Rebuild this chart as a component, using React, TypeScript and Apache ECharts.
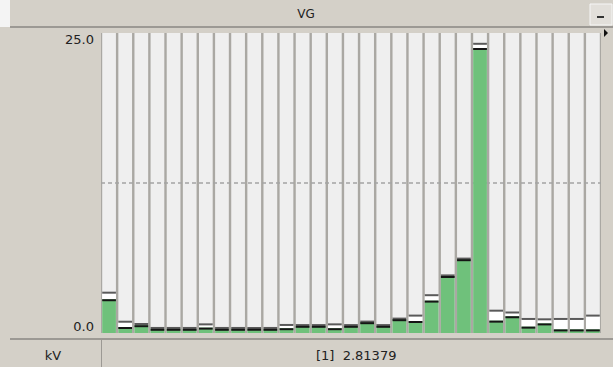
import React, { useEffect, useRef } from "react";
import * as echarts from "echarts";

// Channel numbers shown along the meter strip
const channels = [
  "1", "2", "3", "4", "5", "6", "7", "8", "9", "10",
  "11", "12", "13", "14", "15", "16", "17", "18", "19", "20",
  "21", "22", "23", "24", "25", "26", "27", "28", "29", "30", "31",
];

// Present reading of each channel (kV)
const values = [
  2.81379, 0.5, 0.65, 0.35, 0.35, 0.35, 0.45, 0.35, 0.35, 0.35,
  0.35, 0.4, 0.6, 0.6, 0.4, 0.6, 0.9, 0.6, 1.15, 1.0,
  2.7, 4.75, 6.15, 23.75, 1.03, 1.4, 0.53, 0.8, 0.3, 0.3, 0.3,
];

// Peak-hold reading of each channel (kV)
const peaks = [
  3.36, 0.94, 0.75, 0.42, 0.42, 0.42, 0.72, 0.42, 0.42, 0.42,
  0.42, 0.67, 0.66, 0.66, 0.72, 0.66, 0.95, 0.66, 1.2, 1.45,
  3.15, 4.8, 6.2, 24.1, 1.86, 1.7, 1.17, 1.14, 1.17, 1.17, 1.45,
];

const yTicks = [0, 12.5, 25];
const titleText = "VG";
const unitText = "kV";
const selectedChannel = 1;

const FONT = "DejaVu Sans";
const PANEL = "#d4d0c8";
const EDGE = "#9c9994";
const GREEN = "#6fc17b";

export default function App() {
  const ref = useRef<HTMLDivElement>(null);

  useEffect(() => {
    if (!ref.current) return;
    const chart = echarts.init(ref.current, undefined, { renderer: "svg" });
    const yMin = yTicks[0];
    const yMax = yTicks[yTicks.length - 1];
    const readout = `[${selectedChannel}]  ${values[selectedChannel - 1].toFixed(5)}`;

    chart.setOption({
      animation: false,
      backgroundColor: PANEL,
      textStyle: { fontFamily: FONT },
      grid: {
        left: 101,
        top: 33,
        right: 12,
        bottom: 34,
        show: true,
        backgroundColor: "#aaa8a3",
        borderWidth: 0,
      },
      xAxis: {
        type: "category",
        data: channels,
        axisLine: { show: false },
        axisTick: { show: false },
        axisLabel: { show: false },
        splitLine: { show: false },
      },
      yAxis: {
        type: "value",
        min: yMin,
        max: yMax,
        interval: yTicks[1] - yTicks[0],
        axisLine: { show: false },
        axisTick: { show: false },
        splitLine: { show: false },
        axisLabel: {
          margin: 7,
          fontFamily: FONT,
          fontSize: 13,
          color: "#222",
          verticalAlignMinLabel: "bottom",
          verticalAlignMaxLabel: "top",
          formatter: (v: number) => (v === yMin || v === yMax ? v.toFixed(1) : ""),
        },
      },
      series: [
        {
          // light column behind every channel
          type: "bar",
          data: values,
          barWidth: "85%",
          itemStyle: { color: "rgba(0,0,0,0)" },
          showBackground: true,
          backgroundStyle: { color: "#efefef" },
          silent: true,
          z: 1,
          markLine: {
            silent: true,
            symbol: "none",
            z: 3,
            label: { show: false },
            lineStyle: { color: "#a4a4a4", type: [4, 3], width: 1.5 },
            data: [{ yAxis: yTicks[1] }],
          },
        },
        {
          // reading, peak-hold window and markers
          type: "custom",
          z: 10,
          data: values.map((v, i) => [i, v, peaks[i]]),
          renderItem: (_params: any, api: any) => {
            const idx = api.value(0);
            const v = api.value(1);
            const pk = api.value(2);
            const base = api.coord([idx, 0]);
            const top = api.coord([idx, v]);
            const pkp = api.coord([idx, pk]);
            const w = api.size([1, 0])[0] * 0.85;
            const x = base[0] - w / 2;
            return {
              type: "group",
              children: [
                {
                  type: "rect",
                  shape: { x, y: pkp[1], width: w, height: Math.max(0, top[1] - pkp[1]) },
                  style: { fill: "#ffffff" },
                },
                {
                  type: "rect",
                  shape: { x, y: top[1], width: w, height: base[1] - top[1] },
                  style: { fill: GREEN },
                },
                {
                  type: "rect",
                  shape: { x, y: pkp[1] - 1, width: w, height: 2 },
                  style: { fill: "#5a5a5a" },
                },
                {
                  type: "rect",
                  shape: { x, y: top[1], width: w, height: 2 },
                  style: { fill: "#151515" },
                },
              ],
            };
          },
        },
      ],
      graphic: [
        // title strip
        { type: "rect", shape: { x: 0, y: 0, width: 10, height: 27 }, style: { fill: "#f4f4f4" } },
        { type: "rect", shape: { x: 10, y: 26, width: 603, height: 2 }, style: { fill: EDGE } },
        {
          type: "text",
          x: 306,
          y: 14,
          style: {
            text: titleText,
            fontFamily: FONT,
            fontSize: 12,
            fill: "#222",
            align: "center",
            verticalAlign: "middle",
          },
        },
        // minimise button
        {
          type: "rect",
          shape: { x: 590, y: 4, width: 22, height: 21 },
          style: { fill: "#e2dfda", stroke: "#f6f6f6", lineWidth: 1 },
        },
        {
          type: "line",
          shape: { x1: 597, y1: 17, x2: 604, y2: 17 },
          style: { stroke: "#333", lineWidth: 2 },
        },
        // scroll marker
        {
          type: "polygon",
          shape: { points: [[604, 29], [608, 33], [604, 37]] },
          style: { fill: "#111" },
        },
        // status strip
        { type: "rect", shape: { x: 10, y: 338, width: 603, height: 2 }, style: { fill: EDGE } },
        {
          type: "line",
          shape: { x1: 101.5, y1: 340, x2: 101.5, y2: 367 },
          style: { stroke: EDGE, lineWidth: 1 },
        },
        {
          type: "text",
          x: 53,
          y: 355,
          style: {
            text: unitText,
            fontFamily: FONT,
            fontSize: 13,
            fill: "#222",
            align: "center",
            verticalAlign: "middle",
          },
        },
        {
          type: "text",
          x: 316,
          y: 355,
          style: {
            text: readout,
            fontFamily: FONT,
            fontSize: 13,
            fill: "#222",
            align: "left",
            verticalAlign: "middle",
          },
        },
      ],
    });

    return () => chart.dispose();
  }, []);

  return (
    <div
      ref={ref}
      style={{ position: "fixed", left: 0, top: 0, width: 613, height: 367 }}
    />
  );
}
